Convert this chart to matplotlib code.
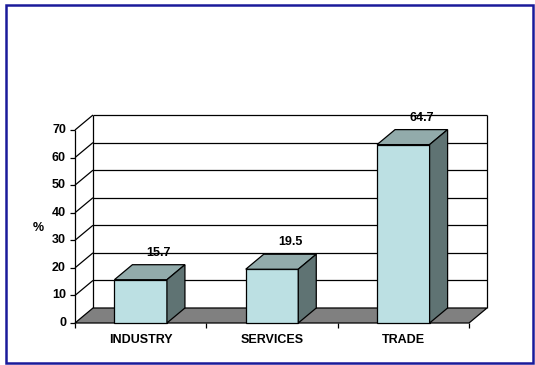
import matplotlib.pyplot as plt
from matplotlib.patches import Polygon, Rectangle

plt.rcParams['font.family'] = ['Liberation Sans', 'DejaVu Sans']

categories = ["INDUSTRY", "SERVICES", "TRADE"]
shares = [15.7, 19.5, 64.7]
y_ticks = [0, 10, 20, 30, 40, 50, 60, 70]

front_col = "#bce0e3"
top_col = "#92abab"
side_col = "#5f7373"
floor_col = "#808080"

W, H = 535, 365
fig = plt.figure(figsize=(W / 100, H / 100), dpi=100)
# axes box = front plane of the 3d box (pixels 75..469 x 130..323)
ax = fig.add_axes([75 / W, (H - 323) / H, 394 / W, 193 / H])
ax.set_xlim(-0.5, 2.5)
ax.set_ylim(0, 70)
ax.axis("off")

# depth offset of the back wall, in data units (18 px right, 15 px up)
dx = 18 / (394 / 3)
dy = 15 / (193 / 70)
ymax = y_ticks[-1]
x0, x1 = -0.5, len(categories) - 0.5
lw = 0.9

def line(xs, ys, z=2):
    ax.plot(xs, ys, color="black", lw=lw, clip_on=False, zorder=z,
            solid_capstyle="butt")

# back wall grid + frame, side wall diagonals
for t in y_ticks[1:]:
    line([x0 + dx, x1 + dx], [t + dy, t + dy], 1)
    line([x0, x0 + dx], [t, t + dy], 1)
line([x0 + dx, x0 + dx], [dy, ymax + dy], 1)
line([x1 + dx, x1 + dx], [dy, ymax + dy], 1)
line([x0, x0], [0, ymax], 3)

# floor
ax.add_patch(Polygon([(x0, 0), (x1, 0), (x1 + dx, dy), (x0 + dx, dy)],
                     closed=True, facecolor=floor_col, edgecolor="black",
                     lw=lw, zorder=2, clip_on=False))

# bars
bw = 0.4
for i, v in enumerate(shares):
    l, r = i - bw / 2, i + bw / 2
    faces = [
        ([(l, 0), (r, 0), (r, v), (l, v)], front_col),
        ([(l, v), (r, v), (r + dx, v + dy), (l + dx, v + dy)], top_col),
        ([(r, 0), (r + dx, dy), (r + dx, v + dy), (r, v)], side_col),
    ]
    for pts, col in faces:
        ax.add_patch(Polygon(pts, closed=True, facecolor=col,
                             edgecolor="black", lw=lw, zorder=4,
                             clip_on=False))
    ax.text(i + dx, v + dy + 4.3, f"{v:.1f}", ha="center", va="center",
            fontsize=9, fontweight="bold", zorder=5)

# axis ticks and labels
px_x = 3 / 394
px_y = 70 / 193
for t in y_ticks:
    line([x0 - 5 * px_x, x0], [t, t], 3)
    ax.text(x0 - 9 * px_x, t, str(t), ha="right", va="center",
            fontsize=9, fontweight="bold")
for b in range(len(categories) + 1):
    line([x0 + b, x0 + b], [0, -5 * px_y], 3)
for i, c in enumerate(categories):
    ax.text(i, -17 * px_y, c, ha="center", va="center",
            fontsize=9, fontweight="bold")
ax.text(x0 - 37 * px_x, 34.5, "%", ha="center", va="center",
        fontsize=9, fontweight="bold")

# outer frame
fig.patches.append(Rectangle((6 / W, 2 / H), 527 / W, 358 / H,
                             transform=fig.transFigure, fill=False,
                             edgecolor="#1a1a9a", lw=1.8))

fig.savefig("out.png", dpi=100)
